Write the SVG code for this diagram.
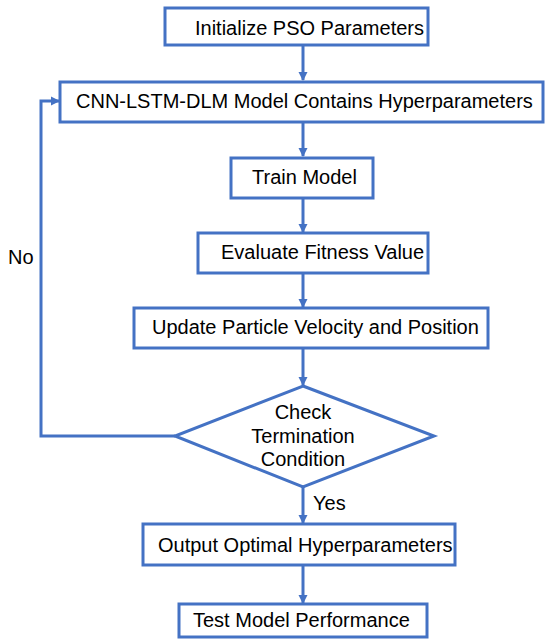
<svg xmlns="http://www.w3.org/2000/svg" width="550" height="643" viewBox="0 0 550 643">
<defs>
<style>
.n{fill:#fff;stroke:#4472C4;stroke-width:3}
.c{fill:none;stroke:#4472C4;stroke-width:3}
text{font-family:"Liberation Sans",Arial,sans-serif;font-size:20px;fill:#000}
</style>
<marker id="ah" markerUnits="userSpaceOnUse" markerWidth="10" markerHeight="10" refX="8" refY="5" orient="auto">
<path d="M0,0.5 L9,5 L0,9.5 Z" fill="#4472C4"/>
</marker>
</defs>
<rect width="550" height="643" fill="#fff"/>
<g id="connectors">
<line class="c" x1="303" y1="45" x2="303" y2="80" marker-end="url(#ah)"/>
<line class="c" x1="303" y1="122" x2="303" y2="156" marker-end="url(#ah)"/>
<line class="c" x1="303" y1="198" x2="303" y2="232" marker-end="url(#ah)"/>
<line class="c" x1="303" y1="273" x2="303" y2="307" marker-end="url(#ah)"/>
<line class="c" x1="303" y1="348" x2="303" y2="385" marker-end="url(#ah)"/>
<line class="c" x1="303" y1="487" x2="303" y2="523" marker-end="url(#ah)"/>
<line class="c" x1="303" y1="565" x2="303" y2="603" marker-end="url(#ah)"/>
<polyline class="c" points="175,436 41,436 41,101 59,101" marker-end="url(#ah)"/>
<text x="8" y="264">No</text>
<text x="313" y="510">Yes</text>
</g>
<g id="n1"><rect class="n" x="165" y="8" width="263" height="37"/><text x="195" y="35">Initialize PSO Parameters</text></g>
<g id="n2"><rect class="n" x="60" y="82" width="483" height="40"/><text x="76" y="108">CNN-LSTM-DLM Model Contains Hyperparameters</text></g>
<g id="n3"><rect class="n" x="231" y="158" width="142" height="40"/><text x="252" y="184">Train Model</text></g>
<g id="n4"><rect class="n" x="198" y="233" width="230" height="40"/><text x="221" y="259">Evaluate Fitness Value</text></g>
<g id="n5"><rect class="n" x="134" y="308" width="354" height="40"/><text x="152" y="334">Update Particle Velocity and Position</text></g>
<g id="n6"><polygon class="n" points="303,386 434,436 303,487 175,436"/>
<text x="303" y="419" text-anchor="middle">Check</text>
<text x="303" y="443" text-anchor="middle">Termination</text>
<text x="303" y="466" text-anchor="middle">Condition</text></g>
<g id="n7"><rect class="n" x="143" y="524" width="312" height="41"/><text x="158" y="552">Output Optimal Hyperparameters</text></g>
<g id="n8"><rect class="n" x="179" y="604" width="248" height="33"/><text x="193" y="627">Test Model Performance</text></g>
</svg>
